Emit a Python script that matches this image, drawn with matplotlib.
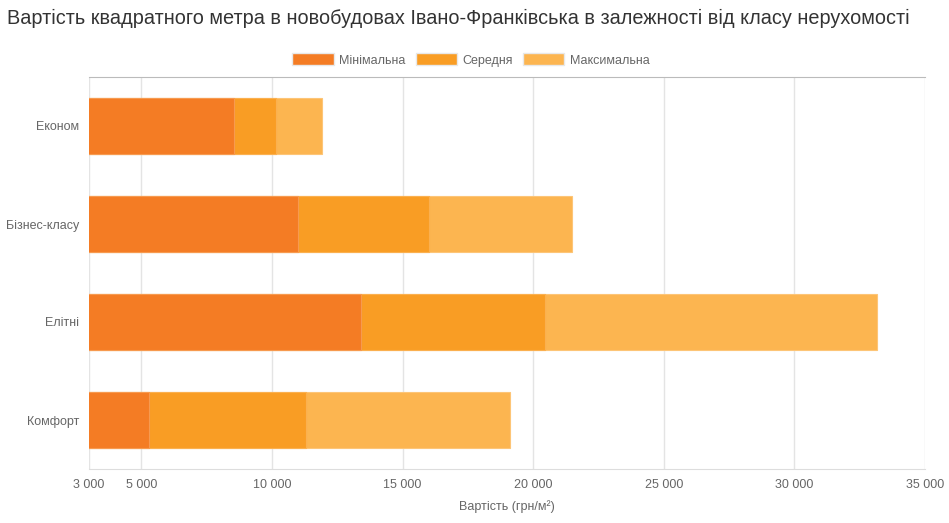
import matplotlib
matplotlib.use('Agg')
import matplotlib.pyplot as plt
from matplotlib.patches import Patch
import numpy as np

plt.rcParams['font.family'] = ['Liberation Sans', 'DejaVu Sans']

# data
categories = ['Економ', 'Бізнес-класу', 'Елітні', 'Комфорт']
min_price = [8550, 11000, 13400, 5300]
avg_price = [10150, 16000, 20450, 11300]
max_price = [11900, 21500, 33150, 19100]
ticks = [3000, 5000, 10000, 15000, 20000, 25000, 30000, 35000]
series_names = ['Мінімальна', 'Середня', 'Максимальна']
colors = ['#f47c24', '#f99d24', '#fcb550']
edges = ['#f79a4f', '#fbb04f', '#fdc577']

fig = plt.figure(figsize=(9.49, 5.23), dpi=100)
ax = fig.add_axes([89 / 949, 1 - 469 / 523, (925 - 89) / 949, (469 - 77) / 523])

y = np.arange(len(categories))
h = 0.565
# bigger values behind, smaller in front
for vals, c, e, z in [(max_price, colors[2], edges[2], 2),
                      (avg_price, colors[1], edges[1], 3),
                      (min_price, colors[0], edges[0], 4)]:
    ax.barh(y, vals, height=h, color=c, edgecolor=e, linewidth=0.8, zorder=z)

ax.set_xlim(3000, 35000)
ax.set_ylim(len(categories) - 0.5, -0.5)
ax.set_yticks(y)
ax.set_yticklabels(categories)
ax.set_xticks(ticks)
ax.set_xticklabels([f'{t:,}'.replace(',', ' ') for t in ticks])

ax.grid(axis='x', color='#e4e4e4', linewidth=1, zorder=0)
for s in ['left', 'right']:
    ax.spines[s].set_visible(False)
ax.spines['bottom'].set_color('#dddddd')
ax.spines['top'].set_color('#bbbbbb')
ax.tick_params(axis='x', length=0, labelcolor='#666666', labelsize=9, pad=7)
ax.tick_params(axis='y', length=0, labelcolor='#666666', labelsize=9, pad=7)

ax.set_xlabel('Вартість (грн/м²)', color='#666666', fontsize=9, labelpad=7)

fig.text(7 / 949, 1 - 18 / 523, 'Вартість квадратного метра в новобудовах Івано-Франківська в залежності від класу нерухомості',
         fontsize=14.3, color='#333333', va='center', ha='left')

handles = [Patch(facecolor=c, edgecolor='#e8e8e8', linewidth=1) for c in colors]
leg = fig.legend(handles, series_names,
                 loc='center', bbox_to_anchor=(471 / 949, 1 - 60 / 523), ncol=3, frameon=False,
                 fontsize=9, handlelength=3.3, handleheight=1.1, columnspacing=0.8, handletextpad=0.45)
for t in leg.get_texts():
    t.set_color('#666666')

fig.savefig('out.png', dpi=100)
